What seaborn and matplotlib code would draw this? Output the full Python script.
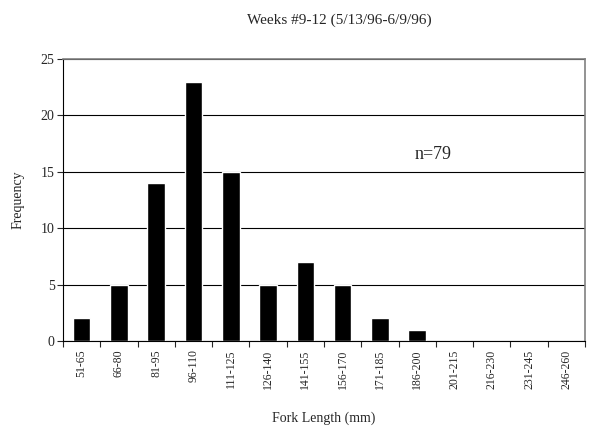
import matplotlib
matplotlib.use("Agg")
import matplotlib.pyplot as plt
import seaborn as sns
import pandas as pd

categories = ["51-65", "66-80", "81-95", "96-110", "111-125", "126-140", "141-155",
              "156-170", "171-185", "186-200", "201-215", "216-230", "231-245", "246-260"]
frequency = [2, 5, 14, 23, 15, 5, 7, 5, 2, 1, 0, 0, 0, 0]
y_ticks = [0, 5, 10, 15, 20, 25]
title = "Weeks #9-12 (5/13/96-6/9/96)"
annotation = "n=79"

sns.set_style("white")
plt.rcParams['font.family'] = ['Liberation Serif', 'DejaVu Serif']

df = pd.DataFrame({"Fork Length (mm)": categories, "Frequency": frequency})

fig = plt.figure(figsize=(5.89, 4.30), dpi=100)
ax = fig.add_axes([63/589, 89/430, (585-63)/589, (341-59)/430])

sns.barplot(data=df, x="Fork Length (mm)", y="Frequency", color="black",
            width=0.47, ax=ax, saturation=1)

ax.set_ylim(0, 25)
ax.set_xlim(-0.5, len(categories) - 0.5)
ax.set_yticks(y_ticks)
ax.set_yticklabels([str(t) for t in y_ticks], fontsize=10)
ax.yaxis.grid(True, color="black", linewidth=0.8)
ax.set_axisbelow(True)

ax.set_xticks(range(len(categories)))
ax.set_xticklabels(categories, rotation=90, fontsize=8.5)
ax.tick_params(axis="x", length=0, pad=6)
ax.set_xticks([i - 0.5 for i in range(len(categories) + 1)], minor=True)
ax.tick_params(axis="x", which="minor", length=4, direction="out", width=0.8, bottom=True)
ax.tick_params(axis="y", length=4, direction="out", width=0.8, left=True, pad=2)

for side in ["left", "bottom"]:
    ax.spines[side].set_color("black")
    ax.spines[side].set_linewidth(0.8)
for side in ["top", "right"]:
    ax.spines[side].set_color("#808080")
    ax.spines[side].set_linewidth(1.2)

ax.set_xlabel("Fork Length (mm)", fontsize=10, labelpad=16)
ax.set_ylabel("Frequency", fontsize=10, labelpad=12)

ax.text(8.94, 15.8, annotation, fontsize=13, ha="left", va="bottom")
fig.text(339/589, 1 - 20/430, title, fontsize=11, ha="center", va="center")

fig.savefig("out.png", dpi=100)
